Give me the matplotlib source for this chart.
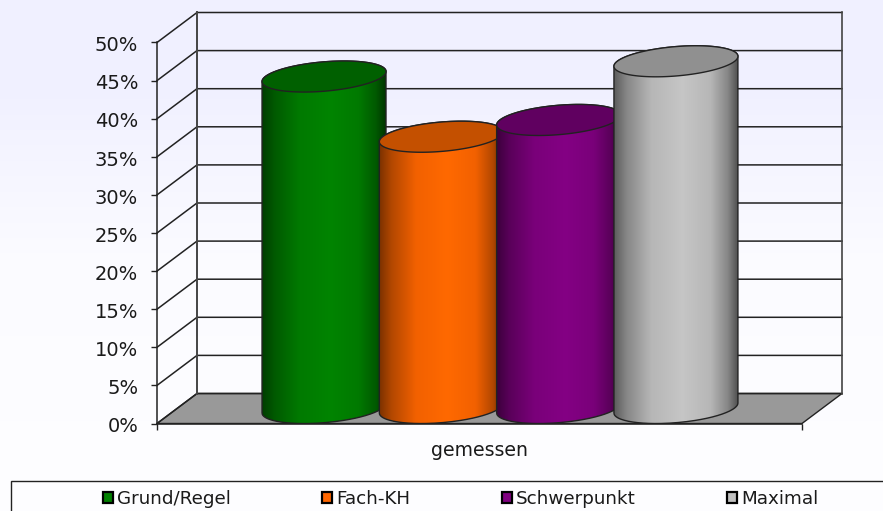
import numpy as np
import matplotlib
matplotlib.use("Agg")
import matplotlib.pyplot as plt
from matplotlib.colors import LinearSegmentedColormap
from matplotlib.patches import PathPatch, Polygon, Rectangle
from matplotlib.path import Path
from matplotlib.transforms import ScaledTranslation

labels = ["Grund/Regel", "Fach-KH", "Schwerpunkt", "Maximal"]
values = [43.5, 35.6, 37.8, 45.5]
colors = ["#008000", "#ff6600", "#800080", "#c0c0c0"]
top_colors = ["#006000", "#c45000", "#600060", "#909090"]
y_ticks = [0, 5, 10, 15, 20, 25, 30, 35, 40, 45, 50]
x_label = "gemessen"

W, H = 883, 511
LEFT, RIGHT, BOTTOM, TOP = 157, 802, 423.5, 42.5  # front plane in pixels
PX_X = 117.3  # pixels per category
PX_Y = (BOTTOM - TOP) / 50
DX = 40 / PX_X  # depth of the 3d box
DY = 30 / PX_Y
XMIN = -1.424
XMAX = XMIN + (RIGHT - LEFT) / PX_X
LINE = "#222222"

plt.rcParams["font.family"] = "DejaVu Sans"
fig = plt.figure(figsize=(W / 100, H / 100), dpi=100)

# background gradient
bg = fig.add_axes([0, 0, 1, 1], zorder=0)
grad = np.array([[0.0], [0.85], [1.0]])
bg.imshow(grad, aspect="auto", extent=[0, 1, 0, 1],
          cmap=LinearSegmentedColormap.from_list("bg", ["#f0f0ff", "#fdfdff"]),
          interpolation="bilinear")
bg.axis("off")

ax = fig.add_axes([LEFT / W, 1 - BOTTOM / H, (RIGHT - LEFT) / W, (BOTTOM - TOP) / H], zorder=1)
ax.patch.set_visible(False)

# floor
ax.add_patch(Polygon([(XMIN, 0), (XMIN + DX, DY), (XMAX + DX, DY), (XMAX, 0)],
                     closed=True, fc="#999999", ec=LINE, lw=1, clip_on=False, zorder=1))

# walls and grid
for v in y_ticks:
    ax.plot([XMIN, XMIN + DX, XMAX + DX], [v, v + DY, v + DY], color=LINE, lw=1.1,
            clip_on=False, zorder=1.5)
ax.plot([XMIN + DX] * 2, [DY, 50 + DY], color="#444444", lw=1.4, clip_on=False, zorder=1.5)
ax.plot([XMAX + DX] * 2, [DY, 50 + DY], color="#444444", lw=1.2, clip_on=False, zorder=1.5)

# cylinders
t = np.linspace(0, 2 * np.pi, 181)
half_w = 62 / PX_X
minor = 14.7 / PX_Y
skew = 5 / PX_Y
base = 15.5 / PX_Y
stops = [0.0, 0.1, 0.3, 0.55, 0.78, 0.92, 1.0]
shade = [0.48, 0.7, 0.95, 1.03, 0.95, 0.7, 0.42]

for i, (val, col, top_col) in enumerate(zip(values, colors, top_colors)):
    rgb = np.array(matplotlib.colors.to_rgb(col))
    ramp = [(s, tuple(np.clip(rgb * f, 0, 1))) for s, f in zip(stops, shade)]
    cmap = LinearSegmentedColormap.from_list("c%d" % i, ramp)
    ex = half_w * np.cos(t)
    ey = minor * np.sin(t) + skew * np.cos(t)
    low = t >= np.pi
    up = t <= np.pi
    body = np.vstack([
        np.column_stack([i + ex[low], base + ey[low]]),
        np.column_stack([i + ex[up], base + val + ey[up]]),
    ])
    z = 2 + i
    patch = PathPatch(Path(np.vstack([body, body[:1]])), fc="none", ec="#222222", lw=1, zorder=z + 0.2)
    ax.add_patch(patch)
    im = ax.imshow(np.linspace(0, 1, 256)[None, :], extent=[i - half_w, i + half_w, 0, 50],
                   aspect="auto", cmap=cmap, zorder=z)
    im.set_clip_path(patch)
    ax.add_patch(Polygon(np.column_stack([i + ex, base + val + ey]), closed=True,
                         fc=top_col, ec="#222222", lw=1, zorder=z + 0.3))

ax.set_xlim(XMIN, XMAX)
ax.set_ylim(0, 50)
ax.set_yticks(y_ticks)
ax.set_yticklabels(["%d%%" % v for v in y_ticks])
ax.set_xticks([XMIN, XMAX])
ax.set_xticklabels(["", ""])
ax.tick_params(axis="both", length=4, width=1, color=LINE, labelsize=14, labelcolor="#1a1a1a")
ax.tick_params(axis="y", pad=9.5)
ax.set_xlabel(x_label, fontsize=13.6, color="#1a1a1a", labelpad=5)
# tick labels sit a little below their ticks
nudge = ScaledTranslation(0, -1.3 / 100, fig.dpi_scale_trans)
for lab in ax.get_yticklabels():
    lab.set_transform(lab.get_transform() + nudge)
for side in ["top", "right"]:
    ax.spines[side].set_visible(False)
for side in ["left", "bottom"]:
    ax.spines[side].set_color(LINE)
    ax.spines[side].set_linewidth(1.1)

# legend box runs off the picture
fig.add_artist(Rectangle((11 / W, -0.02), 1, 0.02 + 30 / H, transform=fig.transFigure,
                         fc="#fdfdff", ec="#222222", lw=1, zorder=2))
handles = [Rectangle((0, 0), 1, 1, fc=c, ec="black", lw=1.6) for c in colors]
leg = fig.legend(handles, labels, ncols=4, loc="center left", bbox_to_anchor=(103 / W, 12 / H),
                 frameon=False, fontsize=13.2, handlelength=0.55, handleheight=0.55,
                 handletextpad=0.22, columnspacing=4.98, borderpad=0, borderaxespad=0)
leg.set_zorder(3)
for txt in leg.get_texts():
    txt.set_color("#1a1a1a")

fig.savefig("out.png", dpi=100)
